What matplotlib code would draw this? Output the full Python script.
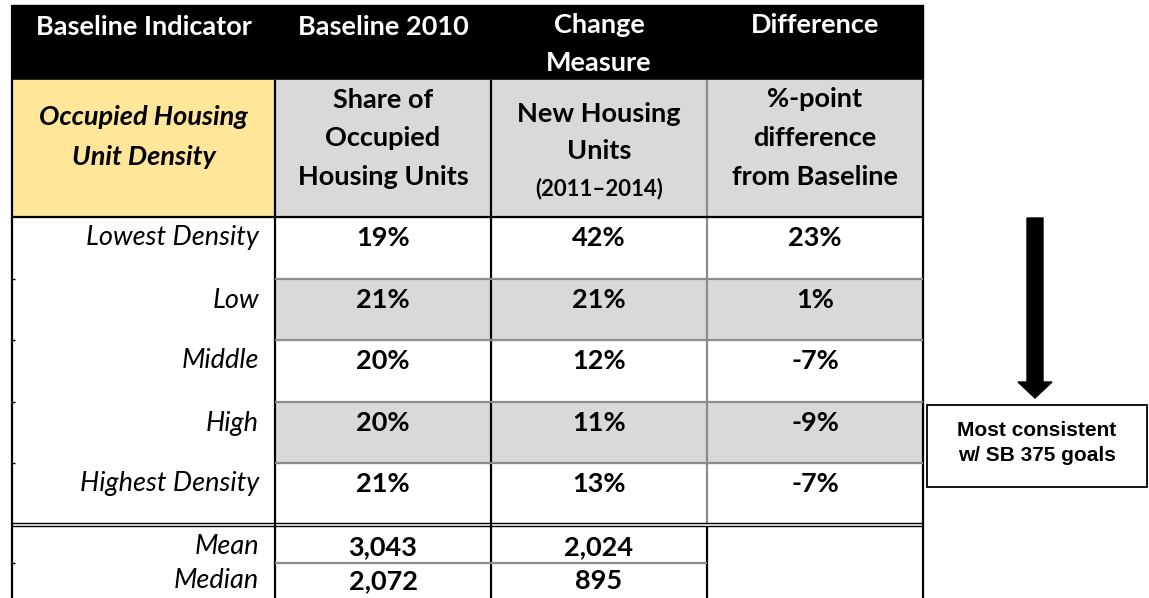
import matplotlib.pyplot as plt
from matplotlib.patches import Rectangle, FancyArrow

plt.rcParams['font.family'] = ['Lato', 'DejaVu Sans']

# dados da tabela
categorias = ["Lowest Density", "Low", "Middle", "High", "Highest Density"]
baseline_share = [19, 21, 20, 20, 21]
new_units_share = [42, 21, 12, 11, 13]
diferenca = [23, 1, -7, -9, -7]
estat_labels = ["Mean", "Median"]
baseline_estat = [3043, 2072]
new_units_estat = [2024, 895]

cabecalho = ["Baseline Indicator", "Baseline 2010", "Change\nMeasure", "Difference"]
sub_cabecalho = ["Occupied Housing\nUnit Density", "Share of\nOccupied\nHousing Units",
                 "New Housing\nUnits\n(2011\u20132014)", "%-point\ndifference\nfrom Baseline"]
nota = "Most consistent\nw/ SB 375 goals"

# geometria (pixels)
cols = [12, 275, 491, 707, 923]
centros = [(cols[i] + cols[i + 1]) / 2 for i in range(4)]
y_head = (5, 80)
y_sub = (80, 217)
linhas = [217, 279, 340, 402, 463, 523]
y_mean = (526, 563, 598)

cinza = '#d9d9d9'
amarelo = '#ffe699'
linha_cinza = '#8c8c8c'

fig = plt.figure(figsize=(11.49, 5.98), dpi=100)
ax = fig.add_axes([0, 0, 1, 1])
ax.set_xlim(0, 1149)
ax.set_ylim(598, 0)
ax.axis('off')

# fundos
ax.add_patch(Rectangle((cols[0], y_head[0]), cols[4] - cols[0], y_head[1] - y_head[0], color='black'))
ax.add_patch(Rectangle((cols[0], y_sub[0]), cols[1] - cols[0], y_sub[1] - y_sub[0], color=amarelo))
ax.add_patch(Rectangle((cols[1], y_sub[0]), cols[4] - cols[1], y_sub[1] - y_sub[0], color=cinza))
for i in range(len(categorias)):
    if i % 2 == 1:
        ax.add_patch(Rectangle((cols[1], linhas[i]), cols[4] - cols[1], linhas[i + 1] - linhas[i], color=cinza))

# linhas
def seg(x0, x1, y0, y1, cor='black', lw=1.6):
    ax.plot([x0, x1], [y0, y1], color=cor, lw=lw, solid_capstyle='butt')

seg(cols[0], cols[0], y_head[0], 598)
seg(cols[4], cols[4], y_sub[0], 598)
seg(cols[1], cols[1], y_sub[0], 598)
seg(cols[2], cols[2], y_sub[0], 598)
seg(cols[3], cols[3], y_sub[0], linhas[-1], cor=linha_cinza)
seg(cols[3], cols[3], y_mean[0], 598)
seg(cols[0], cols[4], y_sub[1], y_sub[1])
for y in linhas[1:-1]:
    seg(cols[1], cols[4], y, y, cor=linha_cinza)
    seg(cols[0], cols[0] + 3, y, y, lw=1)
seg(cols[0], cols[4], linhas[-1], linhas[-1], lw=1)
seg(cols[0], cols[4], y_mean[0], y_mean[0], lw=1)
seg(cols[1], cols[3], y_mean[1], y_mean[1], cor=linha_cinza)
seg(cols[0], cols[0] + 3, y_mean[1], y_mean[1], lw=1)

fs = 19.5

def multilinha(x, ys, txt, **kw):
    for yy, parte in zip(ys, txt.split('\n')):
        tam = 16 if parte.startswith('(') else fs
        ax.text(x, yy, parte, fontsize=tam, fontweight='bold', ha='center', va='center', **kw)

# cabecalho preto
head_ys = [[27], [27], [25, 63], [25]]
for i, txt in enumerate(cabecalho):
    multilinha(centros[i], head_ys[i], txt, color='white')

# sub-cabecalho
multilinha(centros[0], [117, 157], sub_cabecalho[0], style='italic')
multilinha(centros[1], [100, 138, 177], sub_cabecalho[1])
multilinha(centros[2], [114, 151, 189], sub_cabecalho[2])
multilinha(centros[3], [99, 138, 177], sub_cabecalho[3])

# linhas de dados
for i, cat in enumerate(categorias):
    y = linhas[i] + 21
    ax.text(cols[1] - 16, y, cat, fontsize=fs, style='italic', ha='right', va='center')
    ax.text(centros[1], y, f"{baseline_share[i]}%", fontsize=fs, fontweight='bold', ha='center', va='center')
    ax.text(centros[2], y, f"{new_units_share[i]}%", fontsize=fs, fontweight='bold', ha='center', va='center')
    ax.text(centros[3], y, f"{diferenca[i]}%", fontsize=fs, fontweight='bold', ha='center', va='center')

# media / mediana
for i, lab in enumerate(estat_labels):
    y = [547, 581][i]
    ax.text(cols[1] - 16, y, lab, fontsize=fs, style='italic', ha='right', va='center')
    ax.text(centros[1], y, f"{baseline_estat[i]:,}", fontsize=fs, fontweight='bold', ha='center', va='center')
    ax.text(centros[2], y, f"{new_units_estat[i]:,}", fontsize=fs, fontweight='bold', ha='center', va='center')

# seta e caixa
ax.add_patch(FancyArrow(1035, 218, 0, 180, width=16, head_width=34, head_length=16,
                        length_includes_head=True, color='black'))
ax.add_patch(Rectangle((927, 405), 220, 82, fill=False, edgecolor='black', lw=1.3))
ax.text(1037, 443, nota, fontsize=15, fontweight='bold', family=['Liberation Sans', 'DejaVu Sans'],
        ha='center', va='center', linespacing=1.45)

plt.savefig('out.png', dpi=100)
